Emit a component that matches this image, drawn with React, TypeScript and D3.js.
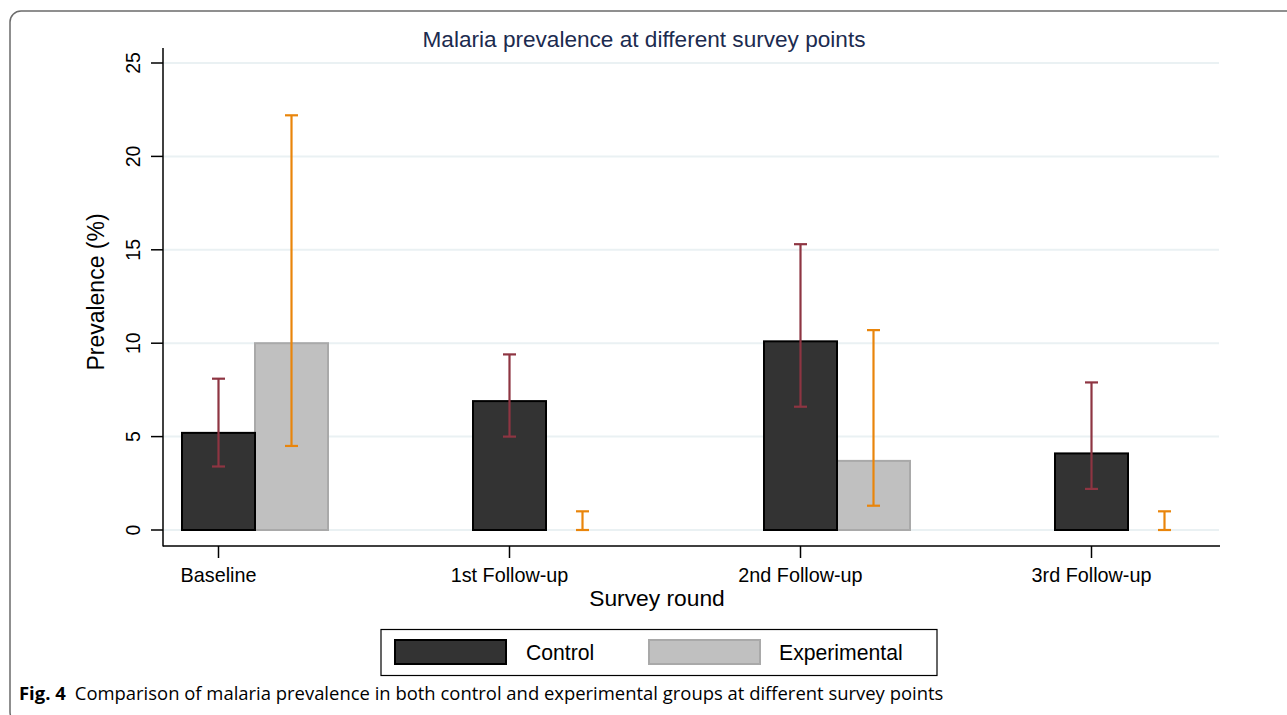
import React from "react";
import * as d3 from "d3";

const rounds = ["Baseline", "1st Follow-up", "2nd Follow-up", "3rd Follow-up"];
const controlValues = [5.2, 6.9, 10.1, 4.1];
const controlLow = [3.4, 5.0, 6.6, 2.2];
const controlHigh = [8.1, 9.4, 15.3, 7.9];
const experimentalValues = [10.0, 0, 3.7, 0];
const experimentalLow = [4.5, 0, 1.3, 0];
const experimentalHigh = [22.2, 1.0, 10.7, 1.0];
const yTicks = [0, 5, 10, 15, 20, 25];

const W = 1287;
const H = 715;
const plotLeft = 163;
const plotRight = 1220;
const plotTop = 48;
const plotBottom = 546;

const CONTROL_FILL = "#333333";
const EXP_FILL = "#c0c0c0";
const CONTROL_ERR = "#8e3542";
const EXP_ERR = "#e9850b";
const GRID = "#eaf1f3";
const FONT = "'Liberation Sans', Arial, Helvetica, sans-serif";

export default function App() {
  const y = d3.scaleLinear().domain([0, 25]).range([530, 63]);
  const x = d3.scalePoint<string>().domain(rounds).range([218.5, 1091.5]);
  const barW = 73;
  const capW = 13;

  const errBar = (cx: number, lo: number, hi: number, color: string, key: string) => (
    <g key={key} stroke={color} strokeWidth={2.2} fill="none">
      <line x1={cx} x2={cx} y1={y(lo)} y2={y(hi)} />
      <line x1={cx - capW / 2} x2={cx + capW / 2} y1={y(lo)} y2={y(lo)} />
      <line x1={cx - capW / 2} x2={cx + capW / 2} y1={y(hi)} y2={y(hi)} />
    </g>
  );

  return (
    <svg
      width={W}
      height={H}
      style={{ position: "absolute", left: 0, top: 0, background: "#fff" }}
      fontFamily={FONT}
    >
      <rect x={0} y={0} width={W} height={H} fill="#fff" />
      {/* outer figure frame */}
      <rect x={10} y={11} width={1400} height={712} rx={11} ry={11} fill="none" stroke="#6b6b6b" strokeWidth={1.5} />

      {/* title */}
      <text x={644} y={47} textAnchor="middle" fontSize={22.6} fill="#1c2b4f">
        Malaria prevalence at different survey points
      </text>

      {/* gridlines */}
      {yTicks.map((t) => (
        <line key={"g" + t} x1={plotLeft} x2={plotRight - 1} y1={y(t)} y2={y(t)} stroke={GRID} strokeWidth={2} />
      ))}

      {/* bars */}
      {rounds.map((r, i) => {
        const cx = x(r) as number;
        const v = controlValues[i];
        const e = experimentalValues[i];
        return (
          <g key={"b" + r}>
            {e > 0 && (
              <rect
                x={cx + barW / 2}
                y={y(e)}
                width={barW}
                height={y(0) - y(e)}
                fill={EXP_FILL}
                stroke="#a9a9a9"
                strokeWidth={2}
              />
            )}
            <rect
              x={cx - barW / 2}
              y={y(v)}
              width={barW}
              height={y(0) - y(v)}
              fill={CONTROL_FILL}
              stroke="#000"
              strokeWidth={2}
            />
          </g>
        );
      })}

      {/* error bars */}
      {rounds.map((r, i) => {
        const cx = x(r) as number;
        return (
          <g key={"e" + r}>
            {errBar(cx, controlLow[i], controlHigh[i], CONTROL_ERR, "c")}
            {errBar(cx + barW, experimentalLow[i], experimentalHigh[i], EXP_ERR, "x")}
          </g>
        );
      })}

      {/* y axis */}
      <line x1={plotLeft} x2={plotLeft} y1={plotTop} y2={plotBottom + 0.5} stroke="#000" strokeWidth={1.5} />
      {yTicks.map((t) => (
        <g key={"yt" + t}>
          <line x1={151} x2={plotLeft} y1={y(t)} y2={y(t)} stroke="#000" strokeWidth={1.5} />
          <text
            transform={`translate(140,${y(t)}) rotate(-90)`}
            textAnchor="middle"
            fontSize={19.5}
            fill="#000"
          >
            {t}
          </text>
        </g>
      ))}
      <text transform={`translate(104,292) rotate(-90)`} textAnchor="middle" fontSize={23} fill="#000">
        Prevalence (%)
      </text>

      {/* x axis */}
      <line x1={plotLeft} x2={plotRight} y1={plotBottom} y2={plotBottom} stroke="#000" strokeWidth={1.5} />
      {rounds.map((r) => {
        const cx = x(r) as number;
        return (
          <g key={"xt" + r}>
            <line x1={cx} x2={cx} y1={plotBottom} y2={plotBottom + 12} stroke="#000" strokeWidth={1.5} />
            <text x={cx} y={582} textAnchor="middle" fontSize={19.8} fill="#000">
              {r}
            </text>
          </g>
        );
      })}
      <text x={657} y={606} textAnchor="middle" fontSize={22.8} fill="#000">
        Survey round
      </text>

      {/* legend */}
      <rect x={381} y={629.5} width={556} height={46} fill="#fff" stroke="#000" strokeWidth={1.2} />
      <rect x={395} y={640} width={111} height={24} fill={CONTROL_FILL} stroke="#000" strokeWidth={2} />
      <text x={526} y={660} fontSize={21.2} fill="#000">Control</text>
      <rect x={649} y={640} width={111} height={24} fill={EXP_FILL} stroke="#a9a9a9" strokeWidth={2} />
      <text x={779} y={660} fontSize={21.2} fill="#000">Experimental</text>

      {/* caption */}
      <text x={19} y={700} fontSize={18.45} fill="#000" fontFamily="'Open Sans', 'Noto Sans', sans-serif">
        <tspan fontWeight="bold">Fig. 4</tspan>
        <tspan dx={9}>Comparison of malaria prevalence in both control and experimental groups at different survey points</tspan>
      </text>
    </svg>
  );
}
